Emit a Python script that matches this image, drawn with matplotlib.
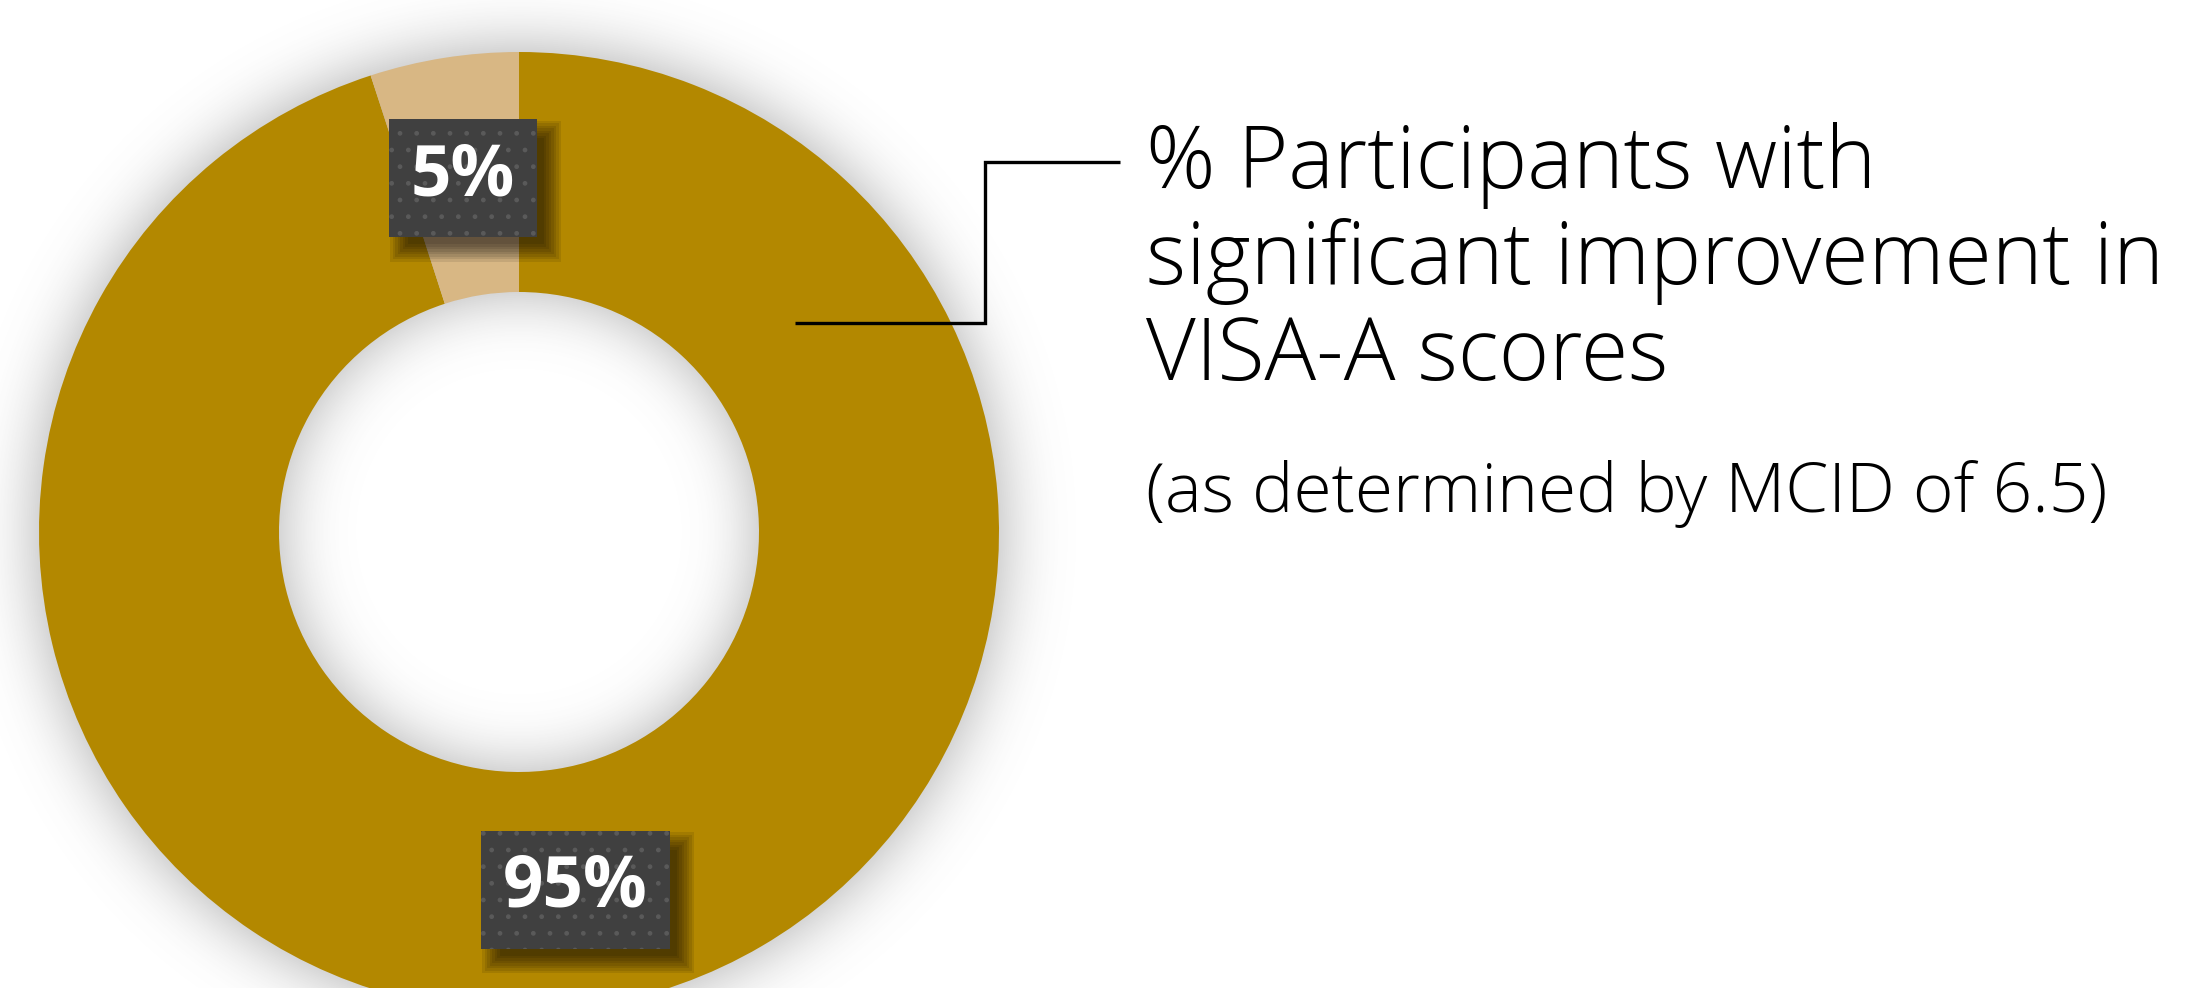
import math
import numpy as np
import matplotlib
matplotlib.use("Agg")
import matplotlib.pyplot as plt
from matplotlib.patches import Rectangle

# ---- data ----
categories = ["Significant improvement", "No significant improvement"]
shares = [95, 5]
colors = ["#B38800", "#D8B784"]
title_lines = ["% Participants with", "significant improvement in", "VISA-A scores"]
subtitle = "(as determined by MCID of 6.5)"

# ---- canvas (1 data unit = 1 pixel) ----
W, H = 2188, 988
fig = plt.figure(figsize=(W / 100, H / 100), dpi=100)
ax = fig.add_axes([0, 0, 1, 1])

cx, cy = 519, 456      # donut centre
R, ring = 480, 240     # outer radius, ring thickness

wedges, texts, autotexts = ax.pie(
    shares, colors=colors, startangle=90, counterclock=False,
    radius=R, center=(cx, cy),
    wedgeprops=dict(width=ring, linewidth=0, zorder=2),
    autopct="%.0f%%", pctdistance=0.75,
    textprops=dict(color="white", fontsize=51, fontweight="bold",
                   family="Open Sans", zorder=8),
)
ax.set_xlim(0, W)
ax.set_ylim(0, H)
ax.set_aspect("equal")
ax.axis("off")

# ---- soft glow around the ring ----
rr = np.linspace(0, 1600, 4001)
sig = 32.0
erf = np.vectorize(math.erf)
glow = 0.5 * (erf((R - rr) / (sig * math.sqrt(2))) - erf((R - ring - rr) / (sig * math.sqrt(2))))
xs = np.arange(W) + 0.5
ys = np.arange(H) + 0.5
X, Y = np.meshgrid(xs, ys)
r = np.hypot(X - cx, Y - cy)
alpha = 0.5 * np.interp(r, rr, glow)
img = np.zeros((H, W, 4))
img[..., :3] = 0.35
img[..., 3] = alpha
ax.imshow(img, origin="lower", extent=(0, W, 0, H), zorder=1, interpolation="bilinear")
ax.set_xlim(0, W)
ax.set_ylim(0, H)

# ---- dark label boxes behind the percentages ----
fig.canvas.draw()
renderer = fig.canvas.get_renderer()
for t in autotexts:
    bb = t.get_window_extent(renderer)
    tx, ty = t.get_position()
    bw = bb.width + 44
    bh = 118
    x0 = tx - bw / 2
    y0 = ty - bh / 2 - 2
    # blurred drop shadow, offset down-right
    for k in range(8):
        e = 2.5 * k - 6
        ax.add_patch(Rectangle((x0 + 13 - e, y0 - 13 - e), bw + 2 * e, bh + 2 * e,
                               facecolor="black", edgecolor="none",
                               alpha=0.09, zorder=6))
    ax.add_patch(Rectangle((x0, y0), bw, bh, facecolor="#404040",
                           edgecolor="#5a5a5a", linewidth=0, hatch=".", zorder=7))

# ---- leader line ----
ax.plot([795, 985, 985, 1120], [H - 323, H - 323, H - 162, H - 162],
        color="black", lw=2.4, solid_joinstyle="miter", solid_capstyle="butt", zorder=5)

# ---- description text ----
for line, base in zip(title_lines, [188, 284, 380]):
    ax.text(1146, H - base, line, fontsize=62, family="Open Sans", fontweight="light",
            color="black", ha="left", va="baseline", zorder=5)
ax.text(1146, H - 512, subtitle, fontsize=50, family="Open Sans", fontweight="light",
        color="black", ha="left", va="baseline", zorder=5)

fig.savefig("out.png", dpi=100, facecolor="white")
